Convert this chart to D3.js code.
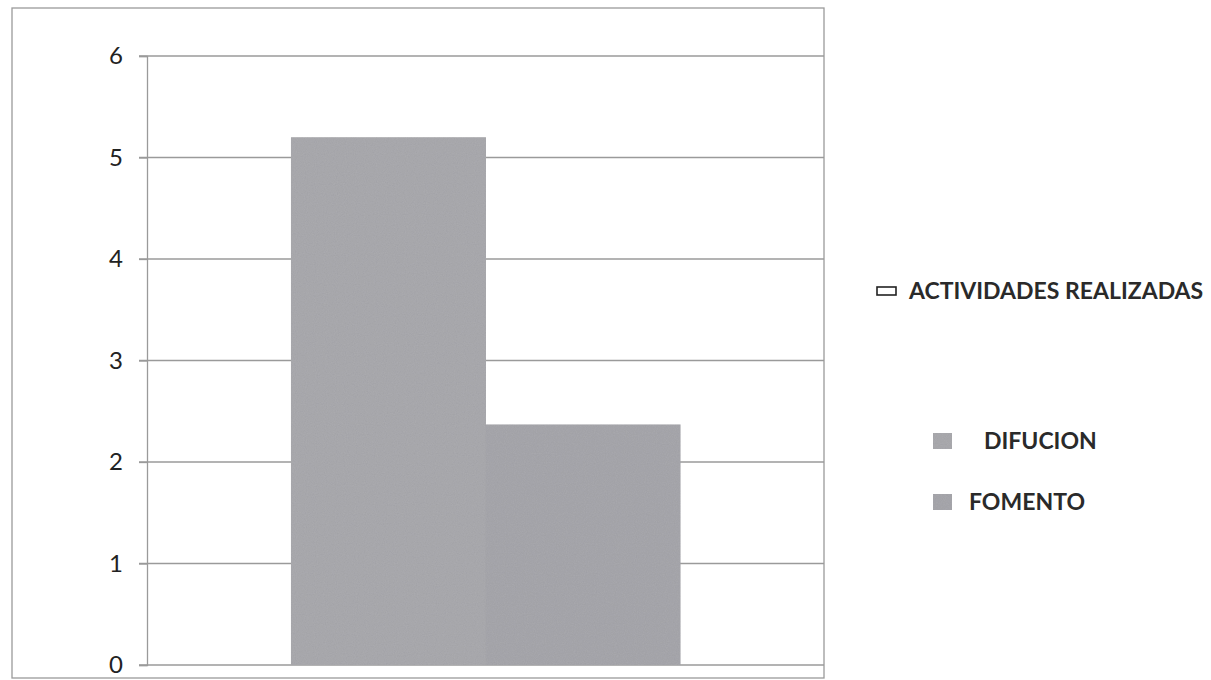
<!DOCTYPE html>
<html>
<head>
<meta charset="utf-8">
<script src="https://cdnjs.cloudflare.com/ajax/libs/d3/7.8.5/d3.min.js"></script>
<style>
body{margin:0;background:#fff;}
.tick text{font-family:Lato,"Open Sans",sans-serif;font-size:24px;fill:#222;}
.legend text{font-family:Lato,"Open Sans",sans-serif;font-weight:bold;font-size:23px;fill:#2a2a2a;}
</style>
</head>
<body>
<script>
//chart data
var categories=["ACTIVIDADES REALIZADAS"];
var seriesNames=["DIFUCION","FOMENTO"];
var seriesValues=[5.2,2.37];
var yTicks=[0,1,2,3,4,5,6];
var legendNames=["ACTIVIDADES REALIZADAS","DIFUCION","FOMENTO"];

window.onload=function(){

	var w=1211, h=680; //svg size
	var plot={left:147,right:824,top:56,bottom:665};

	var svg=d3.select("body")
		.append("svg")
		.attr("width",w)
		.attr("height",h);

	//scanner-ish grain for the grey fills
	var defs=svg.append("defs");
	var grain=defs.append("filter").attr("id","grain");
	grain.append("feTurbulence")
		.attr("type","fractalNoise")
		.attr("baseFrequency","0.9")
		.attr("numOctaves","2")
		.attr("result","noise");
	grain.append("feColorMatrix")
		.attr("in","noise")
		.attr("type","matrix")
		.attr("values","0 0 0 0 0  0 0 0 0 0  0 0 0 0 0  0 0 0 0.12 0")
		.attr("result","dots");
	grain.append("feComposite")
		.attr("in","dots")
		.attr("in2","SourceGraphic")
		.attr("operator","in")
		.attr("result","dotsIn");
	var merge=grain.append("feMerge");
	merge.append("feMergeNode").attr("in","SourceGraphic");
	merge.append("feMergeNode").attr("in","dotsIn");

	//outer frame
	svg.append("rect")
		.attr("x",12)
		.attr("y",8)
		.attr("width",plot.right-12)
		.attr("height",670)
		.style("fill","none")
		.style("stroke","#9a9a9a")
		.style("stroke-width",1.3);

	var y=d3.scaleLinear()
		.range([plot.bottom,plot.top])
		.domain([0,6]);

	var x0=d3.scaleBand()
		.domain(categories)
		.range([plot.left,plot.right])
		.paddingOuter(0.37);

	var x1=d3.scaleBand()
		.domain(seriesNames)
		.range([0,x0.bandwidth()]);

	var color=d3.scaleOrdinal()
		.domain(seriesNames)
		.range(["#acacb0","#a9a9ae"]);

	//gridlines
	svg.append("g")
		.attr("class","grid")
		.selectAll("line")
		.data(yTicks)
		.enter()
		.append("line")
		.attr("x1",plot.left-8)
		.attr("x2",plot.right)
		.attr("y1",function(d){return y(d);})
		.attr("y2",function(d){return y(d);})
		.style("stroke","#9a9a9a")
		.style("stroke-width",1.3);

	//y axis
	var yAxis=d3.axisLeft(y)
		.tickValues(yTicks)
		.tickFormat(d3.format("d"))
		.tickSize(8)
		.tickPadding(16);

	var axis=svg.append("g")
		.attr("class","axis")
		.attr("transform","translate("+plot.left+",0)")
		.call(yAxis);
	axis.select(".domain").style("stroke","#9a9a9a").style("stroke-width",1.3);
	axis.selectAll(".tick line").style("stroke","#9a9a9a").style("stroke-width",1.3);

	//bars
	var group=svg.selectAll(".cat")
		.data(categories)
		.enter()
		.append("g")
		.attr("class","cat")
		.attr("transform",function(d){return "translate("+x0(d)+",0)";});

	group.selectAll("rect")
		.data(seriesNames.map(function(s,i){return {name:s,value:seriesValues[i]};}))
		.enter()
		.append("rect")
		.attr("x",function(d){return x1(d.name);})
		.attr("width",x1.bandwidth()+0.5)
		.attr("y",function(d){return y(d.value);})
		.attr("height",function(d){return y(0)-y(d.value);})
		.style("fill",function(d){return color(d.name);})
		.attr("filter","url(#grain)");

	//legend
	var legend=svg.append("g").attr("class","legend");
	var items=[
		{name:legendNames[0],sx:877,sy:287,sw:19,sh:8,tx:909,ty:291,fill:"#fff"},
		{name:legendNames[1],sx:933,sy:433,sw:19,sh:16,tx:984,ty:441,fill:color(seriesNames[0])},
		{name:legendNames[2],sx:933,sy:494,sw:19,sh:16,tx:969,ty:502,fill:color(seriesNames[1])}
	];
	var entry=legend.selectAll(".item")
		.data(items)
		.enter()
		.append("g")
		.attr("class","item");
	entry.append("rect")
		.attr("x",function(d){return d.sx;})
		.attr("y",function(d){return d.sy;})
		.attr("width",function(d){return d.sw;})
		.attr("height",function(d){return d.sh;})
		.style("fill",function(d){return d.fill;})
		.style("stroke",function(d,i){return i==0?"#222":"none";})
		.style("stroke-width",1.6)
		.attr("filter",function(d,i){return i==0?null:"url(#grain)";});
	entry.append("text")
		.attr("x",function(d){return d.tx;})
		.attr("y",function(d){return d.ty;})
		.attr("dy","0.36em")
		.text(function(d){return d.name;});
};
</script>
</body>
</html>
